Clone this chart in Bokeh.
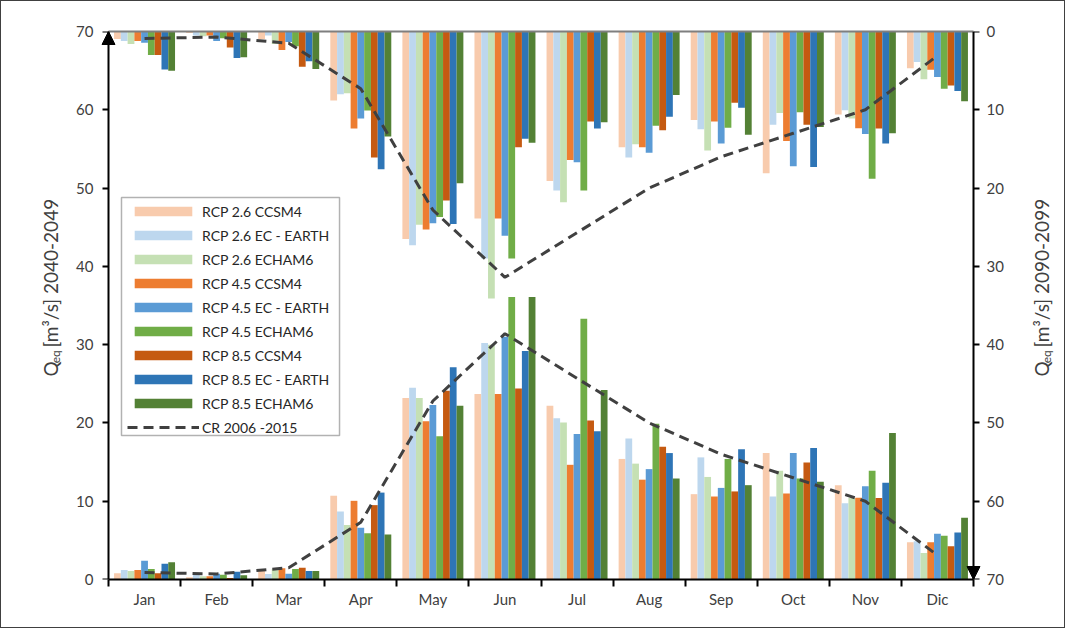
import numpy as np
from math import pi
from bokeh.plotting import figure
from bokeh.layouts import row
from bokeh.models import (Range1d, LinearAxis, FixedTicker, ColumnDataSource, Legend,
                          LegendItem, BoxAnnotation, Label, Arrow, NormalHead)
from bokeh.embed import file_html
from bokeh.resources import INLINE

months = ["Jan", "Feb", "Mar", "Apr", "May", "Jun", "Jul", "Aug", "Sep", "Oct", "Nov", "Dic"]
series = ["RCP 2.6 CCSM4", "RCP 2.6 EC - EARTH", "RCP 2.6 ECHAM6",
          "RCP 4.5 CCSM4", "RCP 4.5 EC - EARTH", "RCP 4.5 ECHAM6",
          "RCP 8.5 CCSM4", "RCP 8.5 EC - EARTH", "RCP 8.5 ECHAM6"]
colors = ["#F8CBAD", "#BDD7EE", "#C5E0B4", "#ED7D31", "#5B9BD5", "#70AD47",
          "#C55A11", "#2E75B6", "#538135"]

# 2040-2049 (left axis, bars from bottom)
b26_ccsm4 = [0.8, 0.3, 1.2, 10.7, 23.2, 23.7, 22.2, 15.4, 10.9, 16.15, 12.05, 4.75]
b26_ec = [1.2, 0.7, 0.7, 8.7, 24.5, 30.2, 20.6, 18.0, 15.6, 10.6, 9.75, 4.9]
b26_echam = [1.1, 0.4, 1.35, 6.95, 23.2, 30.0, 20.05, 14.8, 13.1, 13.9, 10.4, 3.4]
b45_ccsm4 = [1.2, 0.4, 1.45, 10.05, 20.2, 23.7, 14.65, 12.75, 10.6, 11.0, 10.45, 4.75]
b45_ec = [2.4, 0.75, 0.75, 6.6, 22.3, 31.0, 18.6, 14.1, 11.7, 16.15, 11.9, 5.85]
b45_echam = [1.35, 0.6, 1.35, 5.9, 18.3, 36.1, 33.3, 19.9, 15.4, 12.9, 13.9, 5.6]
b85_ccsm4 = [0.8, 0.2, 1.5, 9.5, 24.1, 24.4, 20.3, 16.95, 11.25, 14.95, 10.4, 4.25]
b85_ec = [2.0, 1.0, 1.1, 11.1, 27.1, 29.2, 18.95, 16.15, 16.65, 16.8, 12.35, 6.0]
b85_echam = [2.2, 0.55, 1.1, 5.75, 22.2, 36.1, 24.2, 12.9, 12.05, 12.5, 18.7, 7.9]

# 2090-2099 (right inverted axis, bars from top)
t26_ccsm4 = [0.95, 0.2, 0.95, 8.8, 26.5, 23.9, 19.1, 14.8, 11.3, 18.1, 10.6, 4.7]
t26_ec = [1.2, 0.5, 0.5, 8.0, 27.3, 29.0, 20.3, 16.1, 12.5, 11.9, 10.05, 3.9]
t26_echam = [1.6, 0.6, 1.6, 7.9, 24.7, 34.1, 21.8, 14.4, 15.2, 10.4, 11.1, 6.1]
t45_ccsm4 = [1.2, 0.5, 2.35, 12.4, 25.3, 23.9, 16.4, 14.8, 11.5, 14.0, 12.35, 4.9]
t45_ec = [1.45, 1.2, 1.35, 11.1, 24.5, 26.1, 16.7, 15.5, 14.3, 17.2, 13.1, 5.8]
t45_echam = [3.0, 0.85, 1.9, 10.1, 23.7, 29.0, 20.3, 12.05, 12.3, 10.3, 18.8, 7.3]
t85_ccsm4 = [3.0, 2.05, 4.5, 16.1, 21.6, 14.8, 11.5, 12.6, 9.1, 11.9, 12.4, 6.9]
t85_ec = [4.85, 3.4, 3.8, 17.6, 24.6, 13.7, 12.4, 10.9, 9.75, 17.3, 14.3, 7.6]
t85_echam = [5.0, 3.3, 4.8, 13.4, 19.4, 14.2, 11.6, 8.1, 13.2, 12.2, 13.0, 8.9]

# reference period
cr_2006_2015 = [0.9, 0.7, 1.5, 7.3, 22.8, 31.4, 25.7, 20.0, 16.0, 13.0, 10.0, 3.1]

bottom_sets = [b26_ccsm4, b26_ec, b26_echam, b45_ccsm4, b45_ec, b45_echam,
               b85_ccsm4, b85_ec, b85_echam]
top_sets = [t26_ccsm4, t26_ec, t26_echam, t45_ccsm4, t45_ec, t45_echam,
            t85_ccsm4, t85_ec, t85_echam]
yticks = list(range(0, 71, 10))

FONT = "Lato"
TXT = "#404040"
H = 626

p = figure(width=956, height=H, x_range=Range1d(-0.125, 12.125), y_range=Range1d(0, 70),
           output_backend="svg", toolbar_location=None,
           min_border_left=36, min_border_right=37, min_border_top=30, min_border_bottom=48)
p.extra_y_ranges = {"r": Range1d(70, 0)}
p.xgrid.grid_line_color = None
p.ygrid.grid_line_color = None
p.outline_line_color = None
p.background_fill_color = "white"
p.border_fill_color = "white"

centers = np.arange(len(months)) + 0.5
bw = 0.094

bottom_renderers = []
for i, (name, col, vals, tvals) in enumerate(zip(series, colors, bottom_sets, top_sets)):
    xs = centers + (i - 4) * bw
    src = ColumnDataSource(dict(x=xs, v=vals, t=tvals))
    r = p.vbar(x="x", top="v", bottom=0, width=bw, source=src,
               fill_color=col, line_color=None)
    p.vbar(x="x", top=0, bottom="t", width=bw, source=src, y_range_name="r",
           fill_color=col, line_color=None)
    bottom_renderers.append(r)

line_low = p.line(centers, cr_2006_2015, line_color="#404040", line_width=3,
                  line_dash="10 6")
p.line(centers, cr_2006_2015, line_color="#404040", line_width=3,
       line_dash="10 6", y_range_name="r")

# bottom category axis
xax = p.xaxis[0]
xax.bounds = (0, 12)
xax.ticker = FixedTicker(ticks=list(centers), minor_ticks=list(range(13)))
xax.major_label_overrides = {float(c): m for c, m in zip(centers, months)}
xax.major_tick_line_color = None
xax.minor_tick_in = 0
xax.minor_tick_out = 7
xax.minor_tick_line_color = "black"
xax.minor_tick_line_width = 2
xax.axis_line_color = "black"
xax.axis_line_width = 2
xax.major_label_standoff = 3
xax.major_label_text_font = FONT
xax.major_label_text_font_size = "15px"
xax.major_label_text_color = TXT

# top line (zero of the right axis)
top_axis = LinearAxis(ticker=FixedTicker(ticks=[]), bounds=(0, 12))
top_axis.axis_line_color = "#7F7F7F"
top_axis.axis_line_width = 2
top_axis.major_tick_line_color = None
top_axis.minor_tick_line_color = None
p.add_layout(top_axis, "above")

# label-only axes at the frame edges
left_lab = p.yaxis[0]
left_lab.ticker = FixedTicker(ticks=yticks)
right_lab = LinearAxis(y_range_name="r", ticker=FixedTicker(ticks=yticks))
p.add_layout(right_lab, "right")
for ax, so in ((left_lab, 6), (right_lab, 4)):
    ax.axis_line_color = None
    ax.major_tick_line_color = None
    ax.minor_tick_line_color = None
    ax.major_tick_in = 0
    ax.major_tick_out = 0
    ax.minor_tick_out = 0
    ax.major_label_standoff = so
    ax.major_label_text_font = FONT
    ax.major_label_text_font_size = "15px"
    ax.major_label_text_color = TXT

# line + tick axes at the data positions 0 and 12
left_fix = LinearAxis(ticker=FixedTicker(ticks=yticks), fixed_location=0)
right_fix = LinearAxis(y_range_name="r", ticker=FixedTicker(ticks=yticks), fixed_location=12)
p.add_layout(left_fix, "left")
p.add_layout(right_fix, "right")
for ax in (left_fix, right_fix):
    ax.major_label_overrides = {v: "" for v in yticks}
    ax.major_tick_in = 0
    ax.major_tick_out = 6
    ax.minor_tick_line_color = None
    ax.major_tick_line_width = 2
    ax.axis_line_width = 2
    ax.axis_line_color = "black"
    ax.major_tick_line_color = "black"
    ax.major_label_standoff = 0

# axis arrows
p.add_layout(Arrow(end=NormalHead(size=13, fill_color="black", line_color="black"),
                   x_start=0, y_start=60, x_end=0, y_end=70, line_alpha=0))
p.add_layout(Arrow(end=NormalHead(size=13, fill_color="black", line_color="black"),
                   x_start=12, y_start=60, x_end=12, y_end=70, line_alpha=0,
                   y_range_name="r"))

# legend frame + legend
p.add_layout(BoxAnnotation(left=0.18, right=3.205, bottom=18.4, top=48.8,
                           fill_color="white", fill_alpha=1.0,
                           line_color="black", line_width=1.5))
items = [LegendItem(label=n, renderers=[r]) for n, r in zip(series, bottom_renderers)]
items.append(LegendItem(label="CR 2006 -2015", renderers=[line_low]))
legend = Legend(items=items, location=(28, 142), padding=2, spacing=4,
                glyph_width=72, glyph_height=12, label_height=20, label_standoff=3,
                border_line_color=None, background_fill_alpha=0,
                label_text_font=FONT, label_text_font_size="14px",
                label_text_color="#262626")
p.add_layout(legend)


def side_fig(w):
    f = figure(width=w, height=H, x_range=Range1d(0, w), y_range=Range1d(0, H),
               output_backend="svg", toolbar_location=None, x_axis_type=None,
               y_axis_type=None, min_border=0)
    f.outline_line_color = None
    f.xgrid.grid_line_color = None
    f.ygrid.grid_line_color = None
    return f


def add_title(f, x, y, rest):
    kw = dict(angle=pi / 2, text_align="left", text_baseline="middle",
              text_font=FONT, text_color=TXT)
    f.add_layout(Label(x=x, y=y, text="Q", text_font_size="19px", **kw))
    f.add_layout(Label(x=x + 5, y=y + 15, text="eq", text_font_size="12px", **kw))
    f.add_layout(Label(x=x, y=y + 33, text=rest, text_font_size="19px", **kw))


lf = side_fig(62)
add_title(lf, 49, H - 394, "[m³/s] 2040-2049")
rf = side_fig(45)
add_title(rf, 22, H - 394, "[m³/s] 2090-2099")

layout = row(lf, p, rf, spacing=0, styles={"border": "1px solid #404040"})

open("out.html", "w").write(file_html(layout, INLINE))
